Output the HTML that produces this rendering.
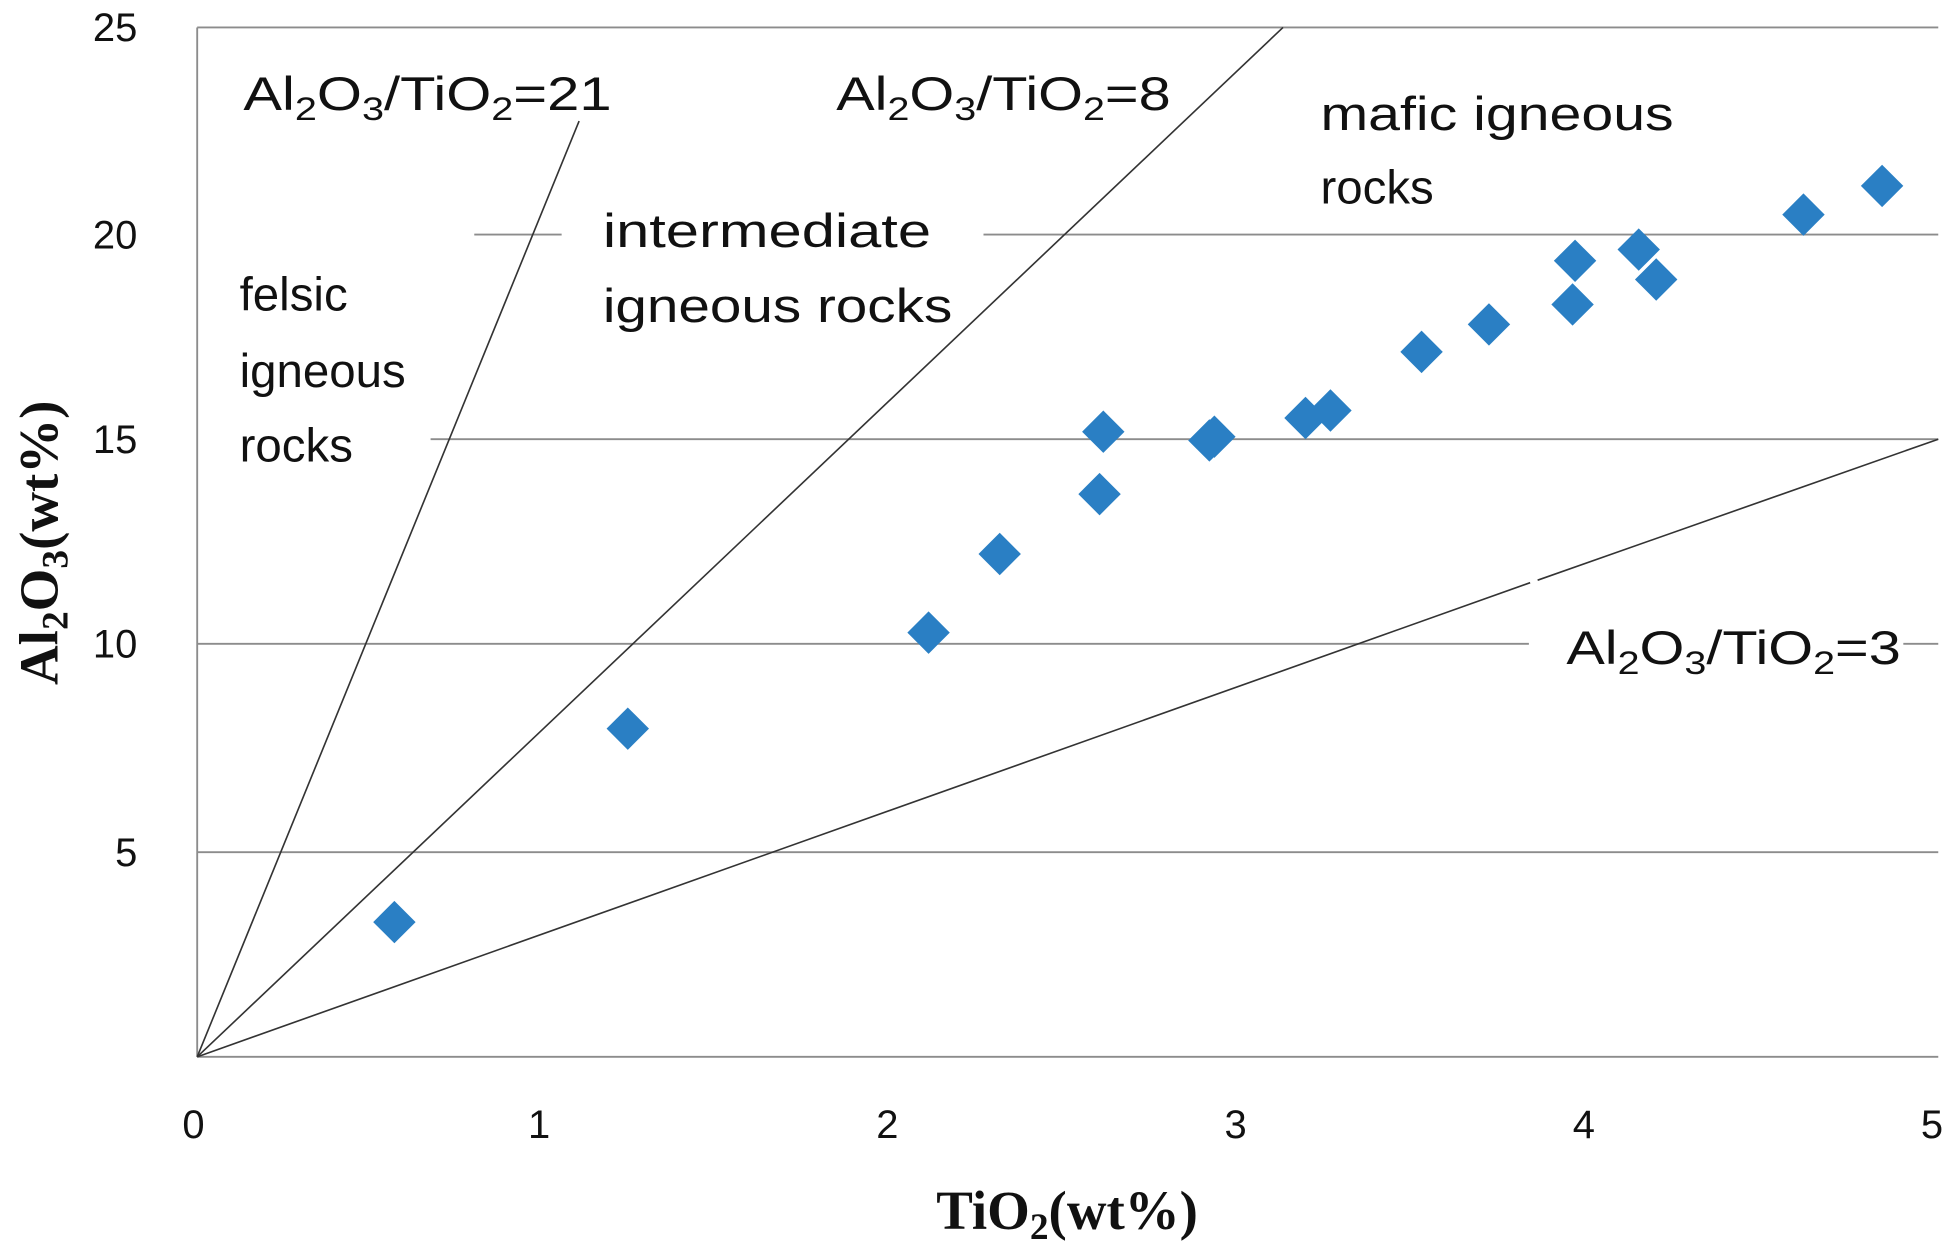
<!DOCTYPE html>
<html><head><style>html,body{margin:0;padding:0;background:#fff;}svg{display:block}</style></head>
<body>
<svg width="1947" height="1244" viewBox="0 0 1560 997" preserveAspectRatio="none" xmlns="http://www.w3.org/2000/svg">
<g stroke="#8c8c8c" stroke-width="1.5">
<line x1="158" y1="22" x2="1553" y2="22"/>
<line x1="380" y1="188" x2="450" y2="188"/>
<line x1="788" y1="188" x2="1553" y2="188"/>
<line x1="345" y1="352" x2="1553" y2="352"/>
<line x1="158" y1="516" x2="1225" y2="516"/>
<line x1="1525" y1="516" x2="1553" y2="516"/>
<line x1="158" y1="683" x2="1553" y2="683"/>
<line x1="158" y1="22" x2="158" y2="847"/>
<line x1="158" y1="847" x2="1553" y2="847"/>
</g>
<g stroke="#333" stroke-width="1.3">
<line x1="158" y1="847" x2="464" y2="97"/>
<line x1="158" y1="847" x2="1028" y2="22"/>
<line x1="158" y1="847" x2="1226" y2="467"/>
<line x1="1232" y1="465" x2="1553" y2="352"/>
</g>
<g fill="#2a7fc4">
<path d="M316 722 L333 739 L316 756 L299 739Z"/>
<path d="M503 567 L520 584 L503 601 L486 584Z"/>
<path d="M744 490 L761 507 L744 524 L727 507Z"/>
<path d="M801 427 L818 444 L801 461 L784 444Z"/>
<path d="M881 379 L898 396 L881 413 L864 396Z"/>
<path d="M884 329 L901 346 L884 363 L867 346Z"/>
<path d="M969 336 L986 353 L969 370 L952 353Z"/>
<path d="M973 333 L990 350 L973 367 L956 350Z"/>
<path d="M1046 318 L1063 335 L1046 352 L1029 335Z"/>
<path d="M1066 312 L1083 329 L1066 346 L1049 329Z"/>
<path d="M1139 265 L1156 282 L1139 299 L1122 282Z"/>
<path d="M1193 243 L1210 260 L1193 277 L1176 260Z"/>
<path d="M1260 227 L1277 244 L1260 261 L1243 244Z"/>
<path d="M1262 192 L1279 209 L1262 226 L1245 209Z"/>
<path d="M1313 183 L1330 200 L1313 217 L1296 200Z"/>
<path d="M1327 207 L1344 224 L1327 241 L1310 224Z"/>
<path d="M1445 155 L1462 172 L1445 189 L1428 172Z"/>
<path d="M1508 132 L1525 149 L1508 166 L1491 149Z"/>
</g>
<g font-family="Liberation Sans, sans-serif" font-size="38" fill="#111">
<text x="195" y="88" textLength="295" lengthAdjust="spacingAndGlyphs">Al<tspan font-size="26" dy="8">2</tspan><tspan dy="-8">O</tspan><tspan font-size="26" dy="8">3</tspan><tspan dy="-8">/TiO</tspan><tspan font-size="26" dy="8">2</tspan><tspan dy="-8">=21</tspan></text>
<text x="670" y="88" textLength="268" lengthAdjust="spacingAndGlyphs">Al<tspan font-size="26" dy="8">2</tspan><tspan dy="-8">O</tspan><tspan font-size="26" dy="8">3</tspan><tspan dy="-8">/TiO</tspan><tspan font-size="26" dy="8">2</tspan><tspan dy="-8">=8</tspan></text>
<text x="1255" y="532" textLength="268" lengthAdjust="spacingAndGlyphs">Al<tspan font-size="26" dy="8">2</tspan><tspan dy="-8">O</tspan><tspan font-size="26" dy="8">3</tspan><tspan dy="-8">/TiO</tspan><tspan font-size="26" dy="8">2</tspan><tspan dy="-8">=3</tspan></text>
<text x="1058" y="104" textLength="283" lengthAdjust="spacingAndGlyphs">mafic igneous</text>
<text x="1058" y="163">rocks</text>
<text x="483" y="198" textLength="263" lengthAdjust="spacingAndGlyphs">intermediate</text>
<text x="483" y="258" textLength="280" lengthAdjust="spacingAndGlyphs">igneous rocks</text>
<text x="192" y="249">felsic</text>
<text x="192" y="310">igneous</text>
<text x="192" y="370">rocks</text>
</g>
<g font-family="Liberation Sans, sans-serif" font-size="32" fill="#111">
<text x="110" y="33" text-anchor="end">25</text>
<text x="110" y="199" text-anchor="end">20</text>
<text x="110" y="363" text-anchor="end">15</text>
<text x="110" y="527" text-anchor="end">10</text>
<text x="110" y="694" text-anchor="end">5</text>
<text x="155" y="912" text-anchor="middle">0</text>
<text x="432" y="912" text-anchor="middle">1</text>
<text x="711" y="912" text-anchor="middle">2</text>
<text x="990" y="912" text-anchor="middle">3</text>
<text x="1269" y="912" text-anchor="middle">4</text>
<text x="1548" y="912" text-anchor="middle">5</text>
</g>
<g font-family="Liberation Serif, serif" font-size="44" font-weight="bold" fill="#111">
<text x="855" y="985" text-anchor="middle">TiO<tspan font-size="30" dy="8">2</tspan><tspan dy="-8">(wt%)</tspan></text>
<text transform="translate(46,435) rotate(-90)" text-anchor="middle">Al<tspan font-size="30" dy="8">2</tspan><tspan dy="-8">O</tspan><tspan font-size="30" dy="8">3</tspan><tspan dy="-8">(wt%)</tspan></text>
</g>
</svg>
</body></html>
